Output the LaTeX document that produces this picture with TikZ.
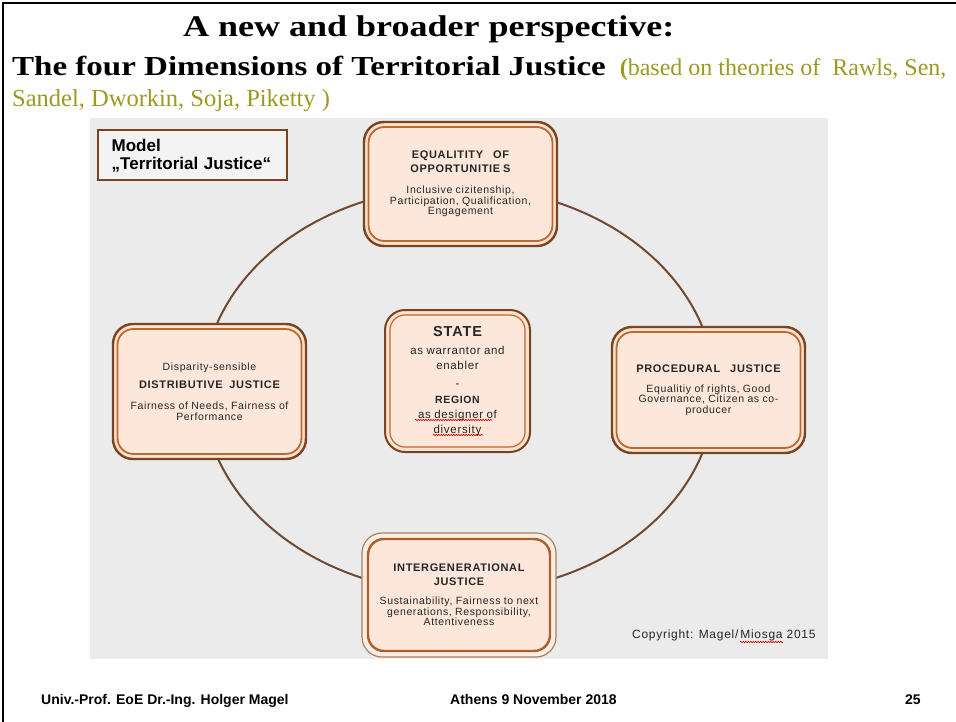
\documentclass[tikz,border=0pt]{standalone}
\usepackage{fontspec}
\usepackage{graphicx}
\setmainfont{Liberation Serif}
\setsansfont{Liberation Sans}
\newfontfamily\lsans[LetterSpace=6]{Liberation Sans}
\usetikzlibrary{decorations.pathmorphing}
\definecolor{bggray}{HTML}{EBEBEB}
\definecolor{obrown}{HTML}{7B4421}
\definecolor{iorange}{HTML}{C0682E}
\definecolor{peachA}{HTML}{FBE3D2}
\definecolor{peachB}{HTML}{FCE7DA}
\definecolor{ringcol}{HTML}{6E4A33}
\definecolor{txtdark}{HTML}{262626}
\definecolor{myolive}{HTML}{9C9A22}
\definecolor{lightbrown}{HTML}{A8805F}
\newcommand\HdF{\lsans\bfseries\fontsize{11}{14}\selectfont}
\newcommand\BdF{\lsans\fontsize{10.5}{10.7}\selectfont}
\newcommand\CtF{\lsans\fontsize{11.5}{15}\selectfont}
\tikzset{
  outerbox/.style={draw=obrown, line width=2.4pt, fill=peachA, rounded corners=20pt, inner sep=0pt},
  innerbox/.style={draw=iorange, line width=1.8pt, fill=peachB, rounded corners=16pt, inner sep=0pt,
     align=center, text=txtdark, text width=176pt},
  ring/.style={draw=ringcol, line width=2pt},
  squiggle/.style={draw=red!85!black, line width=0.6pt, decorate,
     decoration={snake, amplitude=0.7pt, segment length=2.5pt}},
  foot/.style={anchor=base west, inner sep=0pt, font=\sffamily\bfseries\fontsize{14}{16}\selectfont}
}
\begin{document}
\begin{tikzpicture}[x=1pt,y=-1pt]
\useasboundingbox (0,0) rectangle (956,722);
\fill[white] (0,0) rectangle (956,722);
\draw[line width=2pt] (3,722) -- (3,3) -- (956,3);

% headings
\node[anchor=base west, inner sep=0pt] (title) at (183,37)
  {\scalebox{1.2}[1]{\bfseries\fontsize{30}{32}\selectfont A new and broader perspective:}};
\node[anchor=base west, inner sep=0pt] (sub) at (12,76)
  {\scalebox{1.2}[1]{\bfseries\fontsize{27.5}{30}\selectfont The four Dimensions of Territorial Justice}\hspace{14pt}{\color{myolive}\bfseries\fontsize{24}{26}\selectfont(}{\color{myolive}\fontsize{24}{26}\selectfont based on theories of\ \ Rawls, Sen,}};
\node[anchor=base west, inner sep=0pt, text=myolive, font=\fontsize{24.5}{26}\selectfont] (src) at (12,107)
  {Sandel, Dworkin, Soja, Piketty )};

% gray panel
\fill[bggray] (90,118) rectangle (828,659);

% model label
\node[draw=obrown, line width=2.4pt, fill=bggray!60!white, anchor=north west, minimum width=189pt,
  minimum height=50pt, inner sep=0pt, text width=178pt, align=left,
  font=\sffamily\bfseries\fontsize{17}{18}\selectfont, text=black] (model) at (97,129)
  {\hspace{8pt}Model\\\hspace{8pt},,Territorial Justice``};

% ring
\coordinate (ctr) at (459,390);
\draw[ring] (ctr) ellipse [x radius=256, y radius=203];

% top
\node[outerbox, minimum width=193pt, minimum height=124pt] (eqo) at (460.5,184) {};
\node[innerbox, minimum width=184pt, minimum height=114pt] (eq) at (eqo)
  {{\HdF EQUALITITY\ \ \ OF\\OPPORTUNITIE\kern3pt S\par}\vspace{10.3pt}{\BdF Inclusive cizitenship,\\Participation, Qualification,\\Engagement\par}};

% left
\node[outerbox, minimum width=193pt, minimum height=135pt] (disto) at (209.5,391.5) {};
\node[innerbox, minimum width=184pt, minimum height=125pt] (dist) at (disto)
  {{\BdF Disparity-sensible\par}\vspace{4pt}{\HdF DISTRIBUTIVE\ \ JUSTICE\par}\vspace{10.3pt}{\BdF Fairness of Needs, Fairness of\\Performance\par}};

% right
\node[outerbox, minimum width=193pt, minimum height=126pt] (proco) at (708.5,390) {};
\node[innerbox, minimum width=184pt, minimum height=116pt] (proc) at (proco)
  {{\HdF PROCEDU\kern1pt RAL\ \ \ JUSTICE\par}\vspace{9.3pt}{\BdF Equalitiy of rights, Good\\Governance, Citizen as\ co-\\producer\par}};

% center
\node[outerbox, line width=2pt, minimum width=145pt, minimum height=142pt] (stateo) at (457.5,381) {};
\node[innerbox, line width=1.2pt, rounded corners=15pt, text width=130pt, minimum width=135pt, minimum height=132pt] (state) at (stateo)
  {{\lsans\bfseries\fontsize{14.5}{15}\selectfont STATE\par}\vspace{3pt}{\CtF as warrantor and\\enabler\\[3pt]-\par}{\lsans\bfseries\fontsize{10.5}{16}\selectfont REGION\par}{\CtF as designer of\\diversity\par}};
\draw[squiggle] (415,420) -- (492,420);
\draw[squiggle] (433,435) -- (483,435);

% bottom
\node[outerbox, draw=lightbrown, line width=1.2pt, fill=peachB!70!white, minimum width=194pt, minimum height=124pt] (intero) at (459,595) {};
\node[innerbox, draw=iorange!90!black, line width=2.4pt, minimum width=182pt, minimum height=112pt] (inter) at (intero)
  {{\HdF INTERGEN\kern1pt ERATIONAL\\JUSTICE\par}\vspace{8.3pt}{\BdF Sustainability, Fairness to next\\generations, Responsibility,\\Attentiveness\par}};

% copyright
\node[anchor=base west, inner sep=0pt, text=txtdark, font=\lsans\fontsize{12}{14}\selectfont] (copy) at (632,638)
  {Copyright: Magel/\,Miosga 2015};
\draw[squiggle] (740,642) -- (783,642);

% footer
\node[foot] (f1) at (41,704) {Univ.-Prof. EoE Dr.-Ing. Holger Magel};
\node[foot] (f2) at (450,704) {Athens 9 November 2018};
\node[foot] (f3) at (905,704) {25};
\end{tikzpicture}
\end{document}
